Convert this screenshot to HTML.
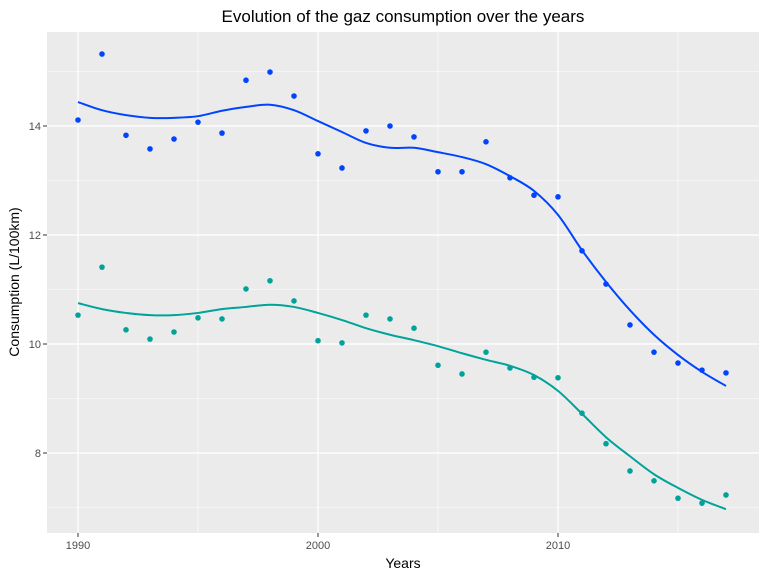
<!DOCTYPE html>
<html><head><meta charset="utf-8"><style>
body{margin:0;background:#fff;font-family:"Liberation Sans",Arial,sans-serif}
svg{display:block}
</style></head><body>
<svg id="chart" width="767" height="578">
<text x="403" y="22" text-anchor="middle" font-size="17" fill="#000">Evolution of the gaz consumption over the years</text>
<rect x="47" y="32" width="712" height="501" fill="#ebebeb"/>
<g id="grid"></g><g id="axes"></g><g id="marks"></g>
<text x="403" y="568" text-anchor="middle" font-size="14" fill="#000">Years</text>
<text transform="translate(19,282) rotate(-90)" text-anchor="middle" font-size="14" fill="#000">Consumption (L/100km)</text>
</svg>
<script>
const years=[1990,1991,1992,1993,1994,1995,1996,1997,1998,1999,2000,2001,2002,2003,2004,2005,2006,2007,2008,2009,2010,2011,2012,2013,2014,2015,2016,2017];
const seriesA=[14.11,15.32,13.83,13.58,13.76,14.07,13.87,14.84,14.99,14.55,13.49,13.23,13.91,14.0,13.8,13.16,13.16,13.71,13.05,12.73,12.70,11.71,11.10,10.35,9.85,9.65,9.52,9.47];
const seriesB=[10.53,11.41,10.26,10.09,10.22,10.48,10.46,11.01,11.16,10.79,10.06,10.02,10.53,10.46,10.29,9.61,9.45,9.85,9.56,9.39,9.38,8.73,8.17,7.67,7.49,7.17,7.08,7.23];
const smoothA=[14.44,14.29,14.2,14.15,14.15,14.18,14.28,14.35,14.39,14.29,14.09,13.89,13.69,13.6,13.6,13.52,13.43,13.3,13.08,12.81,12.37,11.72,11.14,10.62,10.17,9.8,9.49,9.23];
const smoothB=[10.75,10.64,10.57,10.53,10.53,10.57,10.64,10.68,10.72,10.68,10.57,10.44,10.29,10.17,10.07,9.96,9.83,9.71,9.6,9.43,9.14,8.72,8.29,7.94,7.61,7.36,7.14,6.97];
const xTicks=[1990,2000,2010];
const yTicks=[8,10,12,14];
const yMinor=[7,9,11,13,15];
const NS='http://www.w3.org/2000/svg';
const X=y=>78+24*(y-1990);
const Y=v=>344-(v-10)*54.5;
function mk(tag,attrs,parent){const e=document.createElementNS(NS,tag);for(const k in attrs)e.setAttribute(k,attrs[k]);parent.appendChild(e);return e;}
const grid=document.getElementById('grid'),axes=document.getElementById('axes'),marks=document.getElementById('marks');
[1995,2005,2015].forEach(t=>{const l=mk('line',{x1:X(t),x2:X(t),y1:32,y2:533,stroke:'#fff','stroke-width':0.6},grid);

});
yMinor.forEach(t=>{const l=mk('line',{x1:47,x2:759,y1:Y(t),y2:Y(t),stroke:'#fff','stroke-width':0.6},grid);

});
xTicks.forEach(t=>{const l=mk('line',{x1:X(t),x2:X(t),y1:32,y2:533,stroke:'#fff','stroke-width':1.2},grid);


const tk=mk('line',{x1:X(t),x2:X(t),y1:533,y2:537,stroke:'#333','stroke-width':1},axes);


const tx=mk('text',{x:X(t),y:549,'text-anchor':'middle','font-size':11,fill:'#4d4d4d'},axes);tx.textContent=t;

});
yTicks.forEach(t=>{const l=mk('line',{x1:47,x2:759,y1:Y(t),y2:Y(t),stroke:'#fff','stroke-width':1.2},grid);


const tk=mk('line',{x1:43,x2:47,y1:Y(t),y2:Y(t),stroke:'#333','stroke-width':1},axes);


const tx=mk('text',{x:41,y:Y(t)+4,'text-anchor':'end','font-size':11,fill:'#4d4d4d'},axes);tx.textContent=t;

});
function curve(vals){const p=vals.map((v,i)=>[X(years[i]),Y(v)]);let d='M'+p[0][0]+','+p[0][1];
for(let i=0;i<p.length-1;i++){const p0=p[Math.max(i-1,0)],p1=p[i],p2=p[i+1],p3=p[Math.min(i+2,p.length-1)];
d+=' C'+(p1[0]+(p2[0]-p0[0])/6)+','+(p1[1]+(p2[1]-p0[1])/6)+' '+(p2[0]-(p3[0]-p1[0])/6)+','+(p2[1]-(p3[1]-p1[1])/6)+' '+p2[0]+','+p2[1];}
return d;}
function series(vals,sm,col,name){
const g=mk('g',{},marks);


vals.forEach((v,i)=>{const c=mk('circle',{cx:X(years[i]),cy:Y(v),r:2.8,fill:col},g);

});
const p=mk('path',{d:curve(sm),fill:'none',stroke:col,'stroke-width':2},g);

}
series(seriesA,smoothA,'#0044ff','series-a');
series(seriesB,smoothB,'#00a39a','series-b');
</script>
</body></html>
